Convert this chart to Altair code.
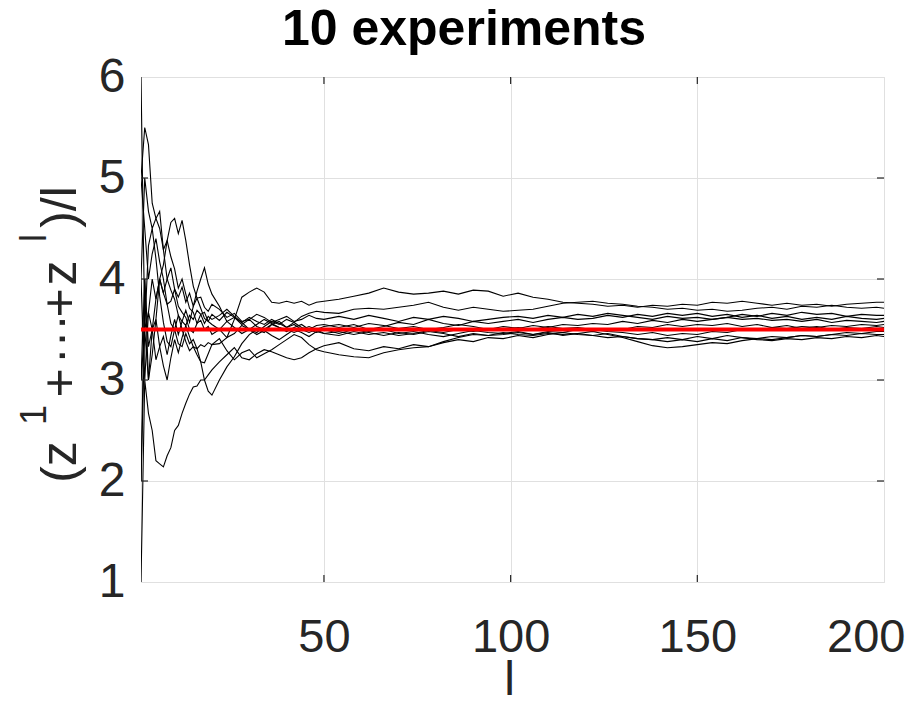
import altair as alt
import pandas as pd

# sample positions (l) shared by all experiments
L = list(range(1, 21)) + list(range(22, 51, 2)) + list(range(54, 199, 4)) + [200]

S1 = [6, 3.5, 3.67, 4.0, 3.8, 4.0, 3.86, 4.0, 4.11, 3.9, 3.82, 3.92, 3.77, 3.86, 3.73, 3.81, 3.71, 3.61, 3.58, 3.65,
      3.59, 3.67, 3.62, 3.57, 3.5, 3.47, 3.53, 3.58, 3.55, 3.6, 3.57, 3.52, 3.5, 3.54, 3.55,
      3.52, 3.55, 3.5, 3.53, 3.57, 3.55, 3.6, 3.56, 3.54, 3.58, 3.56, 3.58, 3.6, 3.57, 3.6, 3.62, 3.6, 3.61, 3.64,
      3.62, 3.65, 3.63, 3.66, 3.64, 3.66, 3.63, 3.65, 3.62, 3.64, 3.61, 3.63, 3.6, 3.62, 3.6, 3.63, 3.61, 3.6, 3.61]
S2 = [1, 3.0, 2.67, 2.5, 2.2, 2.17, 2.14, 2.25, 2.33, 2.5, 2.55, 2.67, 2.77, 2.86, 2.93, 2.94, 3.0, 3.0, 3.05, 3.1,
      3.18, 3.25, 3.32, 3.22, 3.2, 3.26, 3.3, 3.28, 3.25, 3.22, 3.2, 3.22, 3.27, 3.31, 3.34,
      3.37, 3.31, 3.29, 3.33, 3.31, 3.35, 3.33, 3.37, 3.4, 3.38, 3.42, 3.41, 3.44, 3.42, 3.45, 3.47, 3.45, 3.44, 3.46,
      3.43, 3.41, 3.4, 3.38, 3.4, 3.38, 3.41, 3.39, 3.42, 3.4, 3.39, 3.41, 3.4, 3.42, 3.41, 3.43, 3.42, 3.44, 3.43]
S3 = [5, 5.5, 5.33, 4.75, 4.6, 4.5, 4.29, 4.38, 4.22, 4.1, 3.91, 4.0, 3.85, 3.71, 3.67, 3.56, 3.59, 3.5, 3.53, 3.45,
      3.5, 3.42, 3.46, 3.54, 3.5, 3.45, 3.49, 3.44, 3.4, 3.45, 3.5, 3.47, 3.43, 3.48, 3.46,
      3.44, 3.48, 3.45, 3.47, 3.44, 3.46, 3.49, 3.47, 3.5, 3.48, 3.51, 3.5, 3.52, 3.5, 3.53, 3.51, 3.52, 3.5, 3.48,
      3.47, 3.45, 3.47, 3.44, 3.46, 3.45, 3.48, 3.47, 3.5, 3.49, 3.52, 3.51, 3.53, 3.52, 3.54, 3.53, 3.55, 3.54, 3.55]
S4 = [4, 3.0, 3.67, 3.5, 3.8, 4.0, 4.14, 4.38, 4.56, 4.6, 4.45, 4.58, 4.38, 4.14, 3.93, 3.81, 3.82, 3.72, 3.68, 3.75,
      3.7, 3.62, 3.66, 3.58, 3.6, 3.65, 3.62, 3.57, 3.6, 3.63, 3.58, 3.6, 3.64, 3.61, 3.6,
      3.63, 3.6, 3.64, 3.61, 3.58, 3.62, 3.6, 3.63, 3.61, 3.58, 3.6, 3.62, 3.63, 3.61, 3.64, 3.62, 3.65, 3.63, 3.66,
      3.64, 3.62, 3.6, 3.63, 3.61, 3.62, 3.6, 3.62, 3.65, 3.63, 3.66, 3.64, 3.67, 3.65, 3.66, 3.63, 3.65, 3.64, 3.64]
S5 = [3, 4.0, 3.33, 3.5, 3.2, 3.33, 3.43, 3.25, 3.44, 3.6, 3.45, 3.58, 3.69, 3.57, 3.73, 3.88, 4.0, 4.11, 3.95, 3.85,
      3.73, 3.58, 3.62, 3.55, 3.6, 3.53, 3.5, 3.55, 3.52, 3.48, 3.52, 3.55, 3.5, 3.47, 3.5,
      3.46, 3.5, 3.47, 3.44, 3.47, 3.45, 3.48, 3.46, 3.43, 3.46, 3.44, 3.45, 3.47, 3.45, 3.48, 3.47, 3.5, 3.48, 3.51,
      3.5, 3.53, 3.52, 3.55, 3.53, 3.55, 3.54, 3.56, 3.53, 3.55, 3.52, 3.54, 3.51, 3.53, 3.5, 3.52, 3.51, 3.53, 3.52]
S6 = [4, 5.0, 4.67, 4.5, 4.6, 4.67, 4.29, 4.0, 3.89, 3.8, 3.64, 3.5, 3.38, 3.29, 3.33, 3.31, 3.35, 3.33, 3.37, 3.35,
      3.36, 3.42, 3.6, 3.82, 3.87, 3.91, 3.87, 3.77, 3.76, 3.78, 3.76, 3.78, 3.74, 3.77, 3.78,
      3.8, 3.83, 3.86, 3.91, 3.87, 3.85, 3.86, 3.88, 3.85, 3.89, 3.88, 3.83, 3.86, 3.82, 3.8, 3.77, 3.76, 3.75, 3.73,
      3.74, 3.72, 3.74, 3.73, 3.75, 3.74, 3.77, 3.76, 3.78, 3.76, 3.74, 3.76, 3.74, 3.75, 3.73, 3.75, 3.76, 3.77, 3.77]
S7 = [2, 3.5, 3.0, 3.5, 3.6, 3.33, 3.14, 3.0, 3.22, 3.4, 3.27, 3.42, 3.54, 3.43, 3.33, 3.25, 3.18, 3.17, 3.26, 3.35,
      3.41, 3.29, 3.2, 3.27, 3.3, 3.22, 3.26, 3.3, 3.35, 3.4, 3.45, 3.42, 3.35, 3.3, 3.28,
      3.25, 3.23, 3.22, 3.27, 3.3, 3.32, 3.33, 3.38, 3.42, 3.45, 3.44, 3.47, 3.45, 3.44, 3.46, 3.45, 3.46, 3.44, 3.42,
      3.43, 3.41, 3.4, 3.42, 3.4, 3.43, 3.41, 3.44, 3.42, 3.41, 3.43, 3.42, 3.44, 3.43, 3.45, 3.44, 3.46, 3.45, 3.45]
S8 = [5, 4.5, 4.0, 4.25, 4.4, 4.17, 4.0, 3.75, 3.56, 3.5, 3.36, 3.33, 3.46, 3.36, 3.4, 3.31, 3.18, 3.0, 2.89, 2.85,
      3.0, 3.13, 3.23, 3.36, 3.45, 3.5, 3.47, 3.55, 3.58, 3.52, 3.57, 3.63, 3.66, 3.68, 3.67,
      3.66, 3.7, 3.71, 3.7, 3.72, 3.74, 3.77, 3.72, 3.69, 3.72, 3.7, 3.68, 3.69, 3.7, 3.73, 3.76, 3.77, 3.78, 3.76,
      3.75, 3.73, 3.72, 3.7, 3.71, 3.69, 3.7, 3.68, 3.69, 3.71, 3.72, 3.7, 3.73, 3.72, 3.74, 3.72, 3.71, 3.72, 3.71]
S9 = [3, 3.5, 4.33, 4.5, 4.2, 3.83, 3.57, 3.38, 3.33, 3.5, 3.64, 3.58, 3.54, 3.64, 3.6, 3.69, 3.65, 3.56, 3.63, 3.6,
      3.64, 3.7, 3.63, 3.57, 3.62, 3.58, 3.55, 3.6, 3.56, 3.52, 3.55, 3.5, 3.47, 3.5, 3.53,
      3.55, 3.52, 3.56, 3.54, 3.51, 3.53, 3.5, 3.52, 3.55, 3.53, 3.5, 3.53, 3.51, 3.54, 3.52, 3.55, 3.54, 3.56, 3.55,
      3.58, 3.56, 3.59, 3.57, 3.6, 3.58, 3.6, 3.62, 3.6, 3.61, 3.59, 3.6, 3.58, 3.6, 3.57, 3.59, 3.58, 3.57, 3.58]
S10 = [2, 4.0, 3.0, 3.25, 3.6, 4.0, 3.86, 3.75, 3.78, 3.9, 3.73, 3.67, 3.62, 3.5, 3.47, 3.56, 3.65, 3.67, 3.58, 3.55,
       3.5, 3.58, 3.52, 3.46, 3.5, 3.55, 3.6, 3.56, 3.52, 3.5, 3.47, 3.5, 3.53, 3.5, 3.46,
       3.48, 3.45, 3.48, 3.5, 3.46, 3.48, 3.45, 3.43, 3.46, 3.49, 3.47, 3.46, 3.48, 3.45, 3.47, 3.44, 3.46, 3.48, 3.45,
       3.42, 3.38, 3.34, 3.32, 3.33, 3.35, 3.37, 3.36, 3.39, 3.41, 3.4, 3.42, 3.44, 3.43, 3.45, 3.47, 3.46, 3.48, 3.48]

SERIES = [S1, S2, S3, S4, S5, S6, S7, S8, S9, S10]
EXPECTED = [3.5]          # mean of a fair die
X_TICKS = [50, 100, 150, 200]
Y_TICKS = [1, 2, 3, 4, 5, 6]
INNER_X_TICKS = [50, 100, 150]
INNER_Y_TICKS = [2, 3, 4, 5]
TITLE = "10 experiments"
X_TITLE = "l"
# y-axis label "(z^1 + ··· + z^l)/l", written piece by piece (text, is_superscript)
Y_TITLE_PIECES = [("(z", False), ("1", True), ("+", False), ("···", False),
                  ("+", False), ("z", False), ("l", True), (")/l", False)]

for s in SERIES:
    assert len(s) == len(L), len(s)

rows = []
for k, s in enumerate(SERIES):
    for l, v in zip(L, s):
        rows.append({"l": l, "v": v, "run": k})
df = pd.DataFrame(rows)

W, H = 743, 505
FONT = "Liberation Sans"
INK = "#262626"

xscale = alt.Scale(domain=[1, 200], nice=False, zero=False)
yscale = alt.Scale(domain=[1, 6], nice=False, zero=False)

xaxis = alt.Axis(values=X_TICKS, title=X_TITLE, grid=True, ticks=False, domain=False, format="d",
                 labelFontSize=47, labelFont=FONT, labelColor=INK, labelPadding=32,
                 labelFlush=True, labelFlushOffset=21, labelOverlap=False,
                 titleFontSize=48, titleFont=FONT, titleFontWeight="normal", titleColor=INK,
                 titleX=368, titleY=112, titleBaseline="alphabetic", titleAlign="center",
                 gridColor="#e0e0e0", gridWidth=1)
yaxis = alt.Axis(values=Y_TICKS, title=None, grid=True, ticks=False, domain=False, format="d",
                 labelFontSize=48, labelFont=FONT, labelColor=INK, labelPadding=16,
                 labelFlush=False, labelOverlap=False,
                 gridColor="#e0e0e0", gridWidth=1)

lines = alt.Chart(df).mark_line(color="black", strokeWidth=1.1, clip=True).encode(
    x=alt.X("l:Q", scale=xscale, axis=xaxis),
    y=alt.Y("v:Q", scale=yscale, axis=yaxis),
    detail="run:N",
)

mean_line = alt.Chart(pd.DataFrame({"m": EXPECTED})).mark_rule(color="#ff0000", strokeWidth=4).encode(
    y=alt.Y("m:Q", scale=yscale),
    x=alt.value(0), x2=alt.value(W),
)

tx = pd.DataFrame({"t": INNER_X_TICKS})
ty = pd.DataFrame({"t": INNER_Y_TICKS})
tick_style = dict(color=INK, strokeWidth=1.2)
ticks_bottom = alt.Chart(tx).mark_rule(**tick_style).encode(
    x=alt.X("t:Q", scale=xscale), y=alt.value(H), y2=alt.value(H - 7))
ticks_top = alt.Chart(tx).mark_rule(**tick_style).encode(
    x=alt.X("t:Q", scale=xscale), y=alt.value(0), y2=alt.value(7))
ticks_left = alt.Chart(ty).mark_rule(**tick_style).encode(
    y=alt.Y("t:Q", scale=yscale), x=alt.value(0), x2=alt.value(7))
ticks_right = alt.Chart(ty).mark_rule(**tick_style).encode(
    y=alt.Y("t:Q", scale=yscale), x=alt.value(W), x2=alt.value(W - 7))

# chart title
title_mark = alt.Chart(pd.DataFrame({"t": [TITLE]})).mark_text(
    font=FONT, fontSize=50, fontWeight="bold", color="black", align="center", baseline="alphabetic"
).encode(text="t:N", x=alt.value(323), y=alt.value(-32))

# rotated y-axis label, composed of main text and superscripts
Y_PIECE_CENTERS = [385, 338, 306, 262, 226, 196, 161, 130]
ylabel_layers = []
for (txt, sup), yc in zip(Y_TITLE_PIECES, Y_PIECE_CENTERS):
    ylabel_layers.append(
        alt.Chart(pd.DataFrame({"t": [txt]})).mark_text(
            font=FONT, fontSize=36 if sup else 50, color=INK, angle=270,
            align="center", baseline="alphabetic"
        ).encode(text="t:N", x=alt.value(-95 if sup else -65), y=alt.value(yc))
    )

chart = alt.layer(lines, ticks_bottom, ticks_top, ticks_left, ticks_right, mean_line,
                  title_mark, *ylabel_layers).properties(
    width=W, height=H,
    autosize=alt.AutoSizeParams(type="none"),
    padding={"left": 133, "top": 69, "right": 23, "bottom": 113},
).configure_view(stroke=INK, strokeWidth=1.5).configure(background="white")

chart.save("out.html", embed_options={"renderer": "svg", "actions": False})
